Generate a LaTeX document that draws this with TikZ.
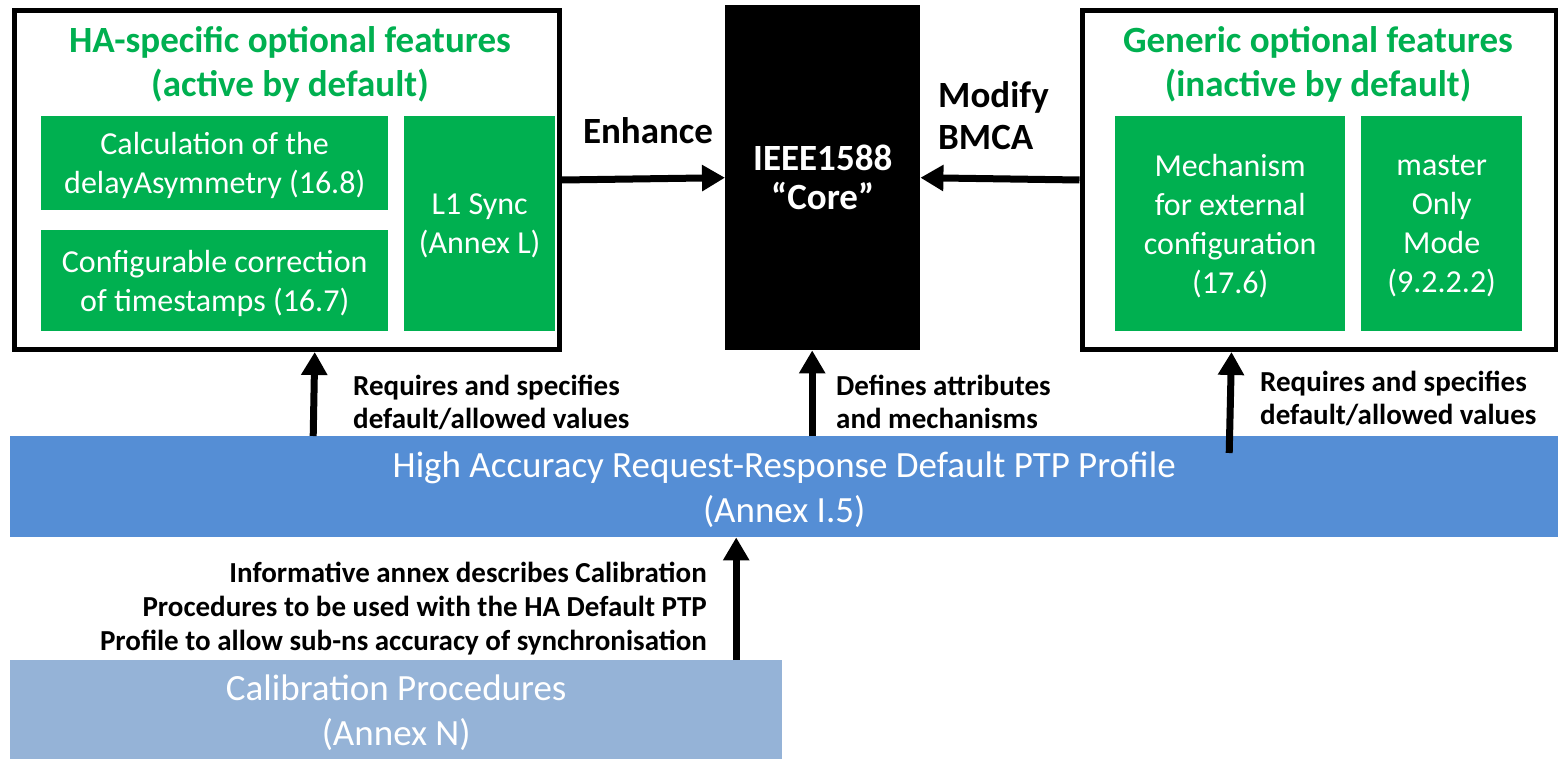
\documentclass[tikz,border=0pt]{standalone}
\usepackage{fontspec}
\setmainfont{Carlito}
\usetikzlibrary{arrows.meta, positioning}
\definecolor{featureGreen}{RGB}{0,176,80}
\definecolor{profileBlue}{RGB}{85,142,213}
\definecolor{calibBlue}{RGB}{149,179,215}
\tikzset{
  groupBox/.style={draw=black, line width=5pt, fill=white, anchor=north west, inner sep=0pt},
  groupTitle/.style={align=center, text=featureGreen, font=\bfseries\fontsize{37}{44}\selectfont},
  featureNode/.style={fill=featureGreen, text=white, align=center, inner sep=0pt, text depth=0pt,
    anchor=north west, font=\fontsize{32}{39}\selectfont},
  coreNode/.style={fill=black, text=white, align=center, inner sep=0pt,
    anchor=north west, font=\bfseries\fontsize{37}{39}\selectfont},
  barNode/.style={text=white, align=center, inner sep=0pt, anchor=north west, text depth=0pt,
    font=\fontsize{37}{45}\selectfont},
  flowLabel/.style={align=left, inner sep=0pt, font=\bfseries\fontsize{29}{33}\selectfont},
  mainFlow/.style={-{Triangle[length=23pt,width=25pt]}, line width=7pt}
}
\begin{document}
\begin{tikzpicture}[x=1pt, y=-1pt]
  \useasboundingbox[fill=white] (0,0) rectangle (1558,759);

  % feature groups and core
  \node[groupBox, minimum width=545.5pt, minimum height=339pt] (haBox) at (11.5,8) {};
  \node[groupBox, minimum width=474pt, minimum height=339pt] (genBox) at (1079.5,8) {};
  \node[coreNode, minimum width=195pt, minimum height=345pt] (core) at (725,5) {IEEE1588\\“Core”};

  \node[groupTitle] (haTitle) at (290,64) {HA-specific optional features\\(active by default)};
  \node[groupTitle] (genTitle) at (1318,64) {Generic optional features\\(inactive by default)};

  \node[featureNode, minimum width=347pt, minimum height=94pt] (delayAsym) at (41,116) {Calculation of the\\delayAsymmetry (16.8)};
  \node[featureNode, minimum width=347pt, minimum height=101pt] (tsCorr) at (41,230) {Configurable correction\\of timestamps (16.7)};
  \node[featureNode, minimum width=151pt, minimum height=215pt] (lSync) at (404,116) {L1 Sync\\(Annex L)};
  \node[featureNode, minimum width=230pt, minimum height=215pt] (extConf) at (1115,116) {Mechanism\\for external\\configuration\\(17.6)};
  \node[featureNode, minimum width=161pt, minimum height=215pt] (masterOnly) at (1361,116) {master\\Only\\Mode\\(9.2.2.2)};

  % profile and calibration bars
  \node[barNode, fill=profileBlue, minimum width=1548pt, minimum height=101pt] (profile) at (10,436)
    {High Accuracy Request-Response Default PTP Profile\\(Annex I.5)};
  \node[barNode, fill=calibBlue, minimum width=772pt, minimum height=99pt] (calib) at (10,660)
    {Calibration Procedures\\(Annex N)};

  % connectors
  \draw[mainFlow] (haBox.east) -- (core.west);
  \draw[mainFlow] (genBox.west) -- (core.east);
  \draw[mainFlow] ([xshift=-471pt]profile.north) -- ([xshift=28pt]haBox.south);
  \draw[mainFlow] ([xshift=28pt]profile.north) -- ([xshift=-10.5pt]core.south);
  \draw[mainFlow] ([xshift=445pt, yshift=-17pt]profile.north) -- ([xshift=-87.5pt]genBox.south);
  \draw[mainFlow] ([xshift=340pt]calib.north) -- ([xshift=-48pt]profile.south);

  % connector labels
  \node[flowLabel, font=\bfseries\fontsize{37}{42}\selectfont] (enhLabel) at (648,131) {Enhance};
  \node[flowLabel, anchor=west, font=\bfseries\fontsize{37}{42}\selectfont] (bmcaLabel) at (938,116) {Modify\\BMCA};
  \node[flowLabel, anchor=west] (haReq) at (353,402) {Requires and specifies\\default/allowed values};
  \node[flowLabel, anchor=west] (coreDef) at (836,402) {Defines attributes\\and mechanisms};
  \node[flowLabel, anchor=west] (genReq) at (1260,398) {Requires and specifies\\default/allowed values};
  \node[flowLabel, align=right, anchor=east, font=\bfseries\fontsize{29}{34}\selectfont] (calibNote) at (707,609)
    {Informative annex describes Calibration\\Procedures to be used with the HA Default PTP\\Profile to allow sub-ns accuracy of synchronisation};
\end{tikzpicture}
\end{document}
